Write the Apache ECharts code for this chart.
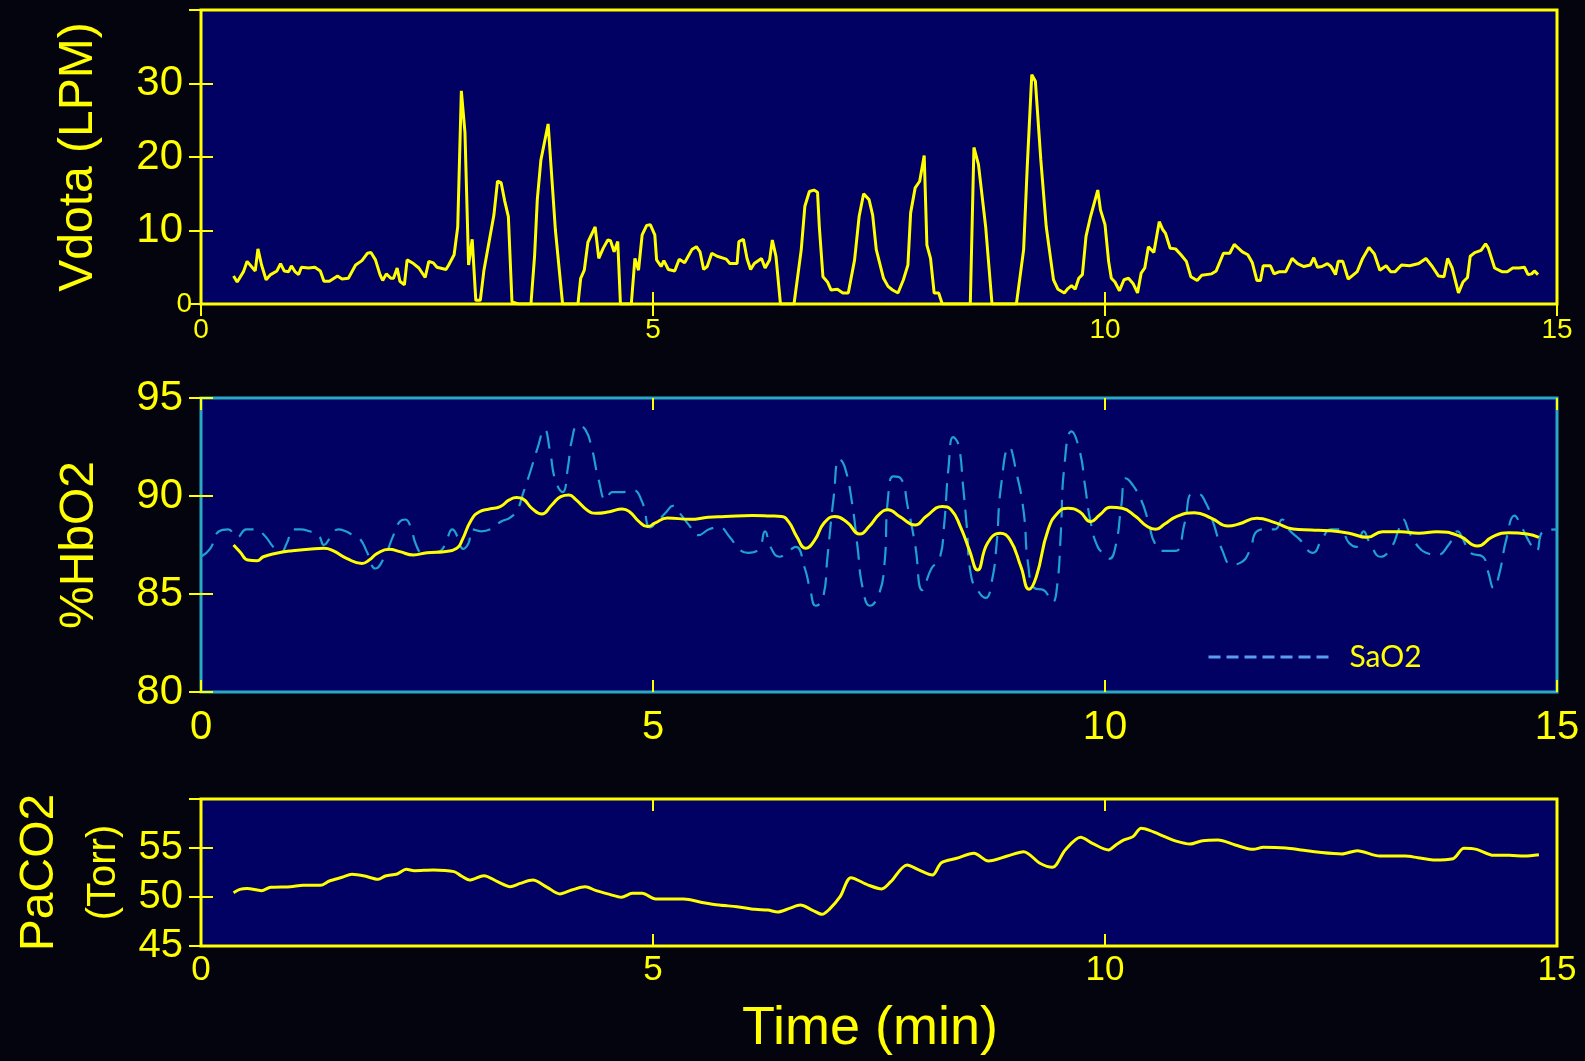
<!DOCTYPE html>
<html>
<head>
<meta charset="utf-8">
<script src="https://cdn.jsdelivr.net/npm/echarts@6/dist/echarts.min.js"></script>
<style>
  html, body { margin: 0; padding: 0; background: #03040e; }
  #chart { width: 1585px; height: 1061px; }
</style>
</head>
<body>
<div id="chart"></div>
<script>
// ---------- DATA ----------
const xTicks = [0, 5, 10, 15];
const axisNames = { vdot: 'Vdota (LPM)', hbo2: '%HbO2', paco2: 'PaCO2', paco2Unit: '(Torr)', time: 'Time (min)' };
const legendLabel = 'SaO2';

const vdotTime = [0.36,0.40,0.47,0.51,0.60,0.63,0.67,0.72,0.77,0.84,0.88,0.92,0.97,1.00,1.04,1.08,1.11,1.19,1.26,1.32,1.36,1.42,1.51,1.56,1.63,1.71,1.78,1.84,1.88,1.93,1.98,2.01,2.05,2.10,2.13,2.17,2.20,2.25,2.28,2.35,2.41,2.48,2.52,2.57,2.61,2.71,2.74,2.80,2.84,2.88,2.92,2.96,3.00,3.04,3.09,3.13,3.24,3.28,3.32,3.36,3.40,3.44,3.51,3.65,3.69,3.72,3.76,3.84,3.92,4.00,4.17,4.20,4.24,4.28,4.36,4.40,4.45,4.50,4.53,4.57,4.61,4.64,4.76,4.80,4.84,4.88,4.93,4.97,5.02,5.04,5.09,5.12,5.17,5.24,5.29,5.35,5.43,5.48,5.52,5.56,5.60,5.65,5.71,5.81,5.85,5.93,5.95,6.00,6.04,6.08,6.12,6.20,6.24,6.29,6.32,6.36,6.41,6.56,6.64,6.68,6.73,6.78,6.82,6.84,6.88,6.93,6.97,7.04,7.10,7.16,7.23,7.28,7.33,7.39,7.43,7.47,7.55,7.60,7.65,7.71,7.77,7.82,7.85,7.90,7.95,8.00,8.03,8.07,8.11,8.16,8.20,8.51,8.55,8.60,8.68,8.75,9.02,9.10,9.14,9.19,9.23,9.29,9.35,9.43,9.48,9.55,9.59,9.63,9.67,9.71,9.75,9.79,9.84,9.92,9.95,10.00,10.04,10.07,10.11,10.16,10.21,10.26,10.31,10.36,10.40,10.44,10.48,10.54,10.60,10.64,10.67,10.72,10.78,10.84,10.90,10.95,11.02,11.07,11.18,11.23,11.31,11.38,11.43,11.52,11.58,11.63,11.68,11.72,11.75,11.83,11.87,11.93,12.00,12.07,12.13,12.20,12.27,12.31,12.35,12.40,12.46,12.50,12.55,12.58,12.63,12.69,12.73,12.79,12.85,12.92,12.98,13.04,13.11,13.16,13.21,13.28,13.37,13.47,13.55,13.62,13.69,13.75,13.79,13.84,13.91,13.96,14.01,14.04,14.09,14.16,14.21,14.24,14.31,14.39,14.45,14.51,14.58,14.64,14.68,14.72,14.75,14.79];
const vdotValues = [3.8,3.0,4.4,5.8,4.5,7.5,5.3,3.3,4.0,4.5,5.5,4.5,4.4,5.2,4.4,4.0,5.0,4.9,5.0,4.5,3.1,3.1,3.8,3.4,3.5,5.3,5.9,6.9,7.0,6.0,4.0,3.2,4.1,3.5,3.5,4.9,3.1,2.6,6.0,5.5,4.9,3.6,5.8,5.6,5.0,4.7,5.3,6.7,10.5,29.0,23.3,5.3,8.8,0.5,0.5,4.6,12.1,16.7,16.5,14.0,11.9,0.3,0,0,6.5,14.2,19.6,24.5,10.1,0,0,3.5,4.6,8.4,10.5,6.2,7.6,8.7,8.6,7.1,8.5,0,0,6.2,4.6,9.4,10.7,10.8,9.4,6.0,5.1,5.9,4.7,4.5,6.1,5.6,7.4,7.8,7.1,4.7,5.1,6.9,6.5,6.1,5.5,5.5,8.5,8.8,6.2,4.7,5.5,6.2,4.9,6.0,8.7,6.5,0,0,7.4,13.3,15.3,15.5,15.2,10.5,3.7,3.0,1.9,2.0,1.5,1.5,6.0,11.9,15.0,14.2,12.1,7.4,3.5,2.4,1.9,1.5,3.3,5.3,12.4,15.8,16.7,20.2,8.0,6.2,1.5,1.5,0,0,21.3,19.0,10.5,0,0,7.4,18.7,31.2,30.3,19.6,10.5,3.3,2.0,1.5,2.1,2.5,2.0,3.5,4.0,9.2,11.9,15.5,12.8,10.8,5.8,3.5,3.0,1.8,3.3,3.5,2.8,1.5,4.2,4.9,7.8,7.0,11.2,10.1,9.6,7.6,7.5,6.7,5.8,3.7,3.2,3.9,4.1,4.5,6.9,6.9,8.1,7.1,6.7,5.6,3.2,3.2,5.2,5.2,4.1,4.4,4.4,6.2,5.5,5.1,5.3,6.3,5.0,5.1,5.5,5.1,4.0,5.8,5.8,3.4,3.8,4.4,6.2,7.7,6.8,4.6,5.2,4.4,4.4,5.3,5.2,5.5,6.2,5.1,3.8,3.7,6.2,4.9,1.5,3.0,3.6,6.5,7.0,7.3,8.2,7.6,4.9,4.4,4.4,4.9,4.9,5.0,4.0,4.1,4.5,4.0];

const hbo2Time = [0.36,0.43,0.52,0.62,0.69,0.82,1.01,1.19,1.36,1.46,1.61,1.78,1.86,1.95,2.08,2.20,2.35,2.50,2.69,2.83,2.89,2.99,3.08,3.19,3.31,3.41,3.49,3.56,3.66,3.77,3.88,3.98,4.07,4.15,4.28,4.37,4.52,4.66,4.74,4.84,4.94,5.02,5.16,5.41,5.61,5.80,6.10,6.30,6.42,6.50,6.59,6.69,6.79,6.89,7.01,7.14,7.29,7.39,7.51,7.60,7.73,7.90,8.02,8.20,8.30,8.40,8.50,8.59,8.70,8.84,8.95,9.07,9.16,9.24,9.37,9.49,9.59,9.72,9.84,9.94,10.06,10.19,10.34,10.46,10.56,10.66,10.79,10.99,11.18,11.36,11.48,11.68,11.88,12.08,12.28,12.48,12.70,12.90,13.07,13.27,13.47,13.67,13.92,14.12,14.29,14.47,14.67,14.80];
const hbo2Values = [87.5,87.16,86.73,86.70,86.90,87.07,87.21,87.28,87.33,87.21,86.82,86.56,86.73,87.07,87.28,87.16,86.99,87.11,87.16,87.33,87.76,88.78,89.20,89.34,89.46,89.80,89.92,89.85,89.37,89.08,89.54,89.97,90.05,89.80,89.25,89.12,89.20,89.34,89.20,88.72,88.44,88.61,88.88,88.81,88.91,88.95,89.01,88.98,88.95,88.69,87.93,87.33,87.76,88.61,88.95,88.69,88.06,88.44,89.10,89.30,88.95,88.52,88.95,89.46,89.29,88.44,87.24,86.22,87.59,88.10,87.76,86.39,85.24,85.88,88.27,89.20,89.37,89.20,88.69,89.03,89.42,89.37,88.95,88.47,88.30,88.57,88.95,89.15,88.86,88.47,88.57,88.86,88.64,88.32,88.27,88.23,88.10,87.89,88.18,88.18,88.10,88.18,87.96,87.45,87.93,88.13,88.06,87.89];

const sao2Time = [0.00,0.10,0.20,0.30,0.40,0.50,0.60,0.70,0.80,0.88,0.95,1.02,1.10,1.20,1.30,1.36,1.42,1.52,1.60,1.68,1.76,1.84,1.93,2.03,2.12,2.20,2.26,2.32,2.38,2.45,2.55,2.65,2.72,2.78,2.84,2.90,2.96,3.00,3.10,3.20,3.32,3.42,3.50,3.56,3.64,3.72,3.80,3.86,3.92,4.00,4.06,4.10,4.17,4.25,4.32,4.40,4.48,4.55,4.66,4.78,4.88,4.97,5.05,5.15,5.22,5.30,5.40,5.50,5.62,5.73,5.85,5.95,6.05,6.17,6.24,6.30,6.40,6.50,6.58,6.68,6.74,6.80,6.88,6.93,7.00,7.06,7.12,7.20,7.26,7.32,7.40,7.50,7.56,7.60,7.66,7.74,7.82,7.90,7.98,8.08,8.17,8.22,8.27,8.32,8.38,8.43,8.47,8.52,8.62,8.68,8.75,8.80,8.85,8.94,9.02,9.10,9.15,9.22,9.32,9.42,9.47,9.51,9.55,9.63,9.72,9.78,9.84,9.92,10.00,10.05,10.12,10.18,10.23,10.30,10.40,10.48,10.55,10.65,10.78,10.88,10.96,11.03,11.12,11.20,11.30,11.40,11.50,11.60,11.68,11.78,11.88,11.96,12.03,12.15,12.30,12.40,12.50,12.60,12.70,12.78,12.86,12.93,13.05,13.17,13.25,13.30,13.36,13.45,13.55,13.68,13.80,13.90,13.96,14.04,14.18,14.24,14.30,14.36,14.44,14.53,14.60,14.70,14.77,14.85,15.00];
const sao2Values = [86.9,87.3,88.2,88.3,87.9,88.3,88.3,88.0,87.4,87.1,87.6,88.3,88.3,88.2,88.0,87.5,87.8,88.3,88.2,88.0,87.8,87.1,86.3,86.9,87.9,88.7,88.8,88.4,87.5,87.1,87.1,87.2,87.8,88.3,87.9,87.3,87.6,88.3,88.2,88.3,88.7,88.9,89.3,90.1,91.2,92.4,93.4,92.3,90.8,90.2,91.5,92.8,93.6,93.4,92.5,90.8,89.8,90.2,90.2,90.3,89.7,88.4,88.7,89.2,89.5,89.1,88.5,88.0,88.3,88.4,87.9,87.3,87.1,87.3,88.2,87.4,86.9,87.2,87.4,86.3,85.2,84.4,84.8,86.9,90.0,91.9,91.5,89.7,87.5,85.3,84.4,85.0,86.5,89.9,91.0,90.9,89.4,87.5,85.2,86.3,86.8,88.5,91.5,93.0,92.6,90.5,88.5,85.9,85.0,84.8,85.7,87.5,90.5,92.5,91.2,89.2,86.5,85.3,85.2,84.6,85.4,88.0,91.5,93.3,92.3,90.5,88.7,87.4,87.0,86.8,87.5,89.5,90.9,90.6,89.8,88.7,87.6,87.2,87.2,88.6,90.1,90.1,89.6,88.6,87.2,86.5,86.6,87.2,88.2,88.3,88.3,88.8,88.3,87.8,87.1,87.8,88.3,88.3,87.6,87.4,88.2,87.6,86.9,87.4,88.3,88.8,88.2,87.5,87.1,87.0,87.5,88.2,87.8,87.1,86.9,86.1,85.3,86.0,87.8,89.0,88.5,87.6,87.2,88.2,88.3];

const paco2Time = [0.36,0.43,0.51,0.67,0.77,0.99,1.13,1.32,1.42,1.56,1.67,1.81,1.96,2.04,2.17,2.27,2.36,2.57,2.80,2.88,2.97,3.13,3.28,3.42,3.53,3.67,3.83,3.97,4.10,4.25,4.37,4.52,4.65,4.77,4.88,5.03,5.34,5.56,5.73,5.93,6.13,6.27,6.38,6.51,6.63,6.76,6.87,6.95,7.07,7.19,7.38,7.53,7.63,7.81,7.94,8.09,8.19,8.36,8.55,8.71,8.92,9.10,9.28,9.42,9.56,9.73,9.86,10.04,10.12,10.21,10.31,10.40,10.50,10.66,10.77,10.94,11.08,11.25,11.44,11.64,11.75,12.00,12.17,12.37,12.62,12.79,13.04,13.32,13.46,13.63,13.85,13.97,14.11,14.30,14.47,14.64,14.80];
const paco2Values = [50.44,50.78,50.88,50.65,50.99,51.05,51.19,51.19,51.63,52.01,52.31,52.14,51.80,52.14,52.35,52.82,52.69,52.76,52.59,52.14,51.73,52.18,51.56,51.05,51.39,51.73,50.99,50.31,50.71,51.05,50.65,50.27,49.97,50.37,50.37,49.80,49.80,49.42,49.18,49.01,48.74,48.67,48.47,48.84,49.18,48.67,48.23,48.74,50.03,51.97,51.22,50.82,51.56,53.27,52.76,52.24,53.50,53.95,54.46,53.67,54.18,54.63,53.44,53.03,54.80,56.09,55.48,54.80,55.31,55.82,56.16,57.01,56.77,56.16,55.75,55.41,55.75,55.82,55.31,54.86,55.07,55.00,54.80,54.56,54.39,54.73,54.18,54.18,54.01,53.78,53.91,54.97,54.86,54.25,54.25,54.18,54.32];

// ---------- STYLE ----------
const YEL = '#ffff00';
const FONT = '"Liberation Sans", Arial, Helvetica, sans-serif';
const PLOT_BG = '#010163';
const zip = (t, v) => t.map((x, i) => [x, v[i]]);

function tickStyle() {
  return { show: true, inside: true, length: 12, lineStyle: { color: YEL, width: 2 } };
}
function xPair(gi, fontSize, margin, extra) {
  return [
    Object.assign({
      type: 'value', gridIndex: gi, min: xTicks[0], max: xTicks[xTicks.length - 1], interval: 5,
      position: 'bottom', axisLine: { show: false }, splitLine: { show: false },
      axisTick: tickStyle(),
      axisLabel: { color: YEL, fontSize: fontSize, fontFamily: FONT, margin: margin }
    }, extra || {}),
    {
      type: 'value', gridIndex: gi, min: 0, max: 15, interval: 5, position: 'top',
      axisLine: { show: false }, splitLine: { show: false }, axisTick: tickStyle(),
      axisLabel: { show: false }
    }
  ];
}
function yPair(gi, min, max, interval, fontSize, margin, name, nameGap, formatter, rich) {
  return [
    {
      type: 'value', gridIndex: gi, min: min, max: max, interval: interval, position: 'left',
      axisLine: { show: false }, splitLine: { show: false }, axisTick: tickStyle(),
      axisLabel: { color: YEL, fontSize: fontSize, fontFamily: FONT, margin: margin, formatter: formatter, rich: rich },
      name: name, nameLocation: 'middle', nameRotate: 90, nameGap: nameGap, nameMoveOverlap: false,
      nameTextStyle: { color: YEL, fontSize: 48, fontFamily: FONT, rich: rich }
    },
    {
      type: 'value', gridIndex: gi, min: min, max: max, interval: interval, position: 'right',
      axisLine: { show: false }, splitLine: { show: false }, axisTick: tickStyle(),
      axisLabel: { show: false }
    }
  ];
}

const chart = echarts.init(document.getElementById('chart'), null, { renderer: 'canvas' });

const xAxes = [].concat(
  xPair(0, 28, 12),
  xPair(1, 40, 16),
  xPair(2, 35, 7, {
    name: axisNames.time, nameLocation: 'middle', nameGap: 56, nameMoveOverlap: false,
    nameTextStyle: { color: YEL, fontSize: 54, fontFamily: FONT, padding: [0, 18, 0, 0] }
  })
);
const yAxes = [].concat(
  yPair(0, 0, 40, 10, 42, 9, axisNames.vdot, 98,
    v => v === 0 ? '{s|0}' : (v === 40 ? '' : '{n|' + v + '}'),
    { s: { fontSize: 28, color: YEL, fontFamily: FONT },
      n: { fontSize: 42, color: YEL, fontFamily: FONT, padding: [0, 9, 0, 0] } }),
  yPair(1, 80, 95, 5, 42, 18, axisNames.hbo2, 97, v => String(v)),
  yPair(2, 45, 60, 5, 40, 18, '{a|' + axisNames.paco2 + '}\n{b|' + axisNames.paco2Unit + '}', 65,
    v => v === 60 ? '' : String(v),
    { a: { fontSize: 48, color: YEL, fontFamily: FONT, lineHeight: 64 },
      b: { fontSize: 40, color: YEL, fontFamily: FONT, lineHeight: 64 } })
);

const gridBase = { left: 201, right: 28, show: true, backgroundColor: PLOT_BG, containLabel: false, outerBoundsMode: 'none' };
const option = {
  animation: false,
  backgroundColor: '#03040e',
  grid: [
    Object.assign({ top: 10, height: 294, borderColor: YEL, borderWidth: 3 }, gridBase),
    Object.assign({ top: 398, height: 294, borderColor: '#2aa8c4', borderWidth: 3 }, gridBase),
    Object.assign({ top: 799, height: 147, borderColor: YEL, borderWidth: 3 }, gridBase)
  ],
  xAxis: xAxes,
  yAxis: yAxes,
  legend: {
    data: [legendLabel],
    left: 1202, top: 637,
    itemWidth: 126, itemHeight: 14,
    selectedMode: false,
    itemStyle: { opacity: 0 },
    textStyle: { color: YEL, fontSize: 30, fontFamily: 'Lato, "Open Sans", sans-serif', padding: [0, 0, 0, 10] },
    lineStyle: { color: '#5b9cf0', type: [12, 6], width: 3 }
  },
  series: [
    {
      name: 'Vdota', type: 'line', xAxisIndex: 0, yAxisIndex: 0,
      data: zip(vdotTime, vdotValues), symbol: 'none', smooth: false,
      lineStyle: { color: YEL, width: 3 }, z: 3
    },
    {
      name: legendLabel, type: 'line', xAxisIndex: 2, yAxisIndex: 2,
      data: zip(sao2Time, sao2Values), symbol: 'none', smooth: 0.5,
      lineStyle: { color: '#1fa0cf', width: 2.2, type: [18, 10] }, z: 2
    },
    {
      name: '%HbO2', type: 'line', xAxisIndex: 2, yAxisIndex: 2,
      data: zip(hbo2Time, hbo2Values), symbol: 'none', smooth: 0.5,
      lineStyle: { color: YEL, width: 3 }, z: 3
    },
    {
      name: 'PaCO2', type: 'line', xAxisIndex: 4, yAxisIndex: 4,
      data: zip(paco2Time, paco2Values), symbol: 'none', smooth: 0.3,
      lineStyle: { color: YEL, width: 3 }, z: 3
    }
  ]
};
chart.setOption(option);
</script>
</body>
</html>
